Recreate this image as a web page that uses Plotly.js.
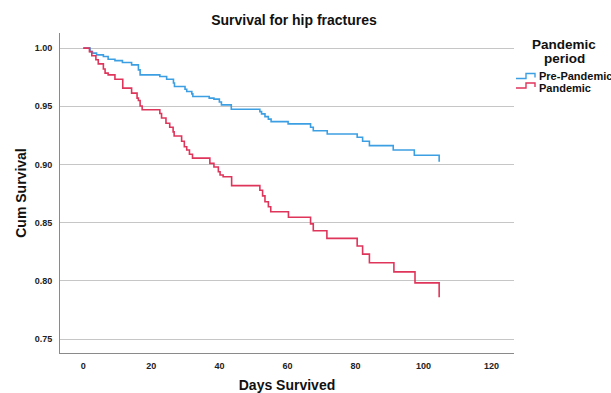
<!DOCTYPE html>
<html>
<head>
<meta charset="utf-8">
<script src="https://cdn.plot.ly/plotly-3.0.1.min.js"></script>
<style>html,body{margin:0;padding:0;background:#fff;}#chart{width:611px;height:393px;}</style>
</head>
<body>
<div id="chart"></div>
<script>
const chartTitle = "Survival for hip fractures";
const xTitle = "Days Survived";
const yTitle = "Cum Survival";
const legendTitleLines = ["Pandemic", "period"];
const seriesNames = ["Pre-Pandemic", "Pandemic"];

const xTickVals = [0, 20, 40, 60, 80, 100, 120];
const yTickVals = [0.75, 0.80, 0.85, 0.90, 0.95, 1.00];
const yTickText = ["0.75", "0.80", "0.85", "0.90", "0.95", "1.00"];

const preDays = [0, 2.0, 2.7, 3.9, 5.9, 7.3, 9.3, 11.5, 14.2, 16.2, 16.7, 22.5, 24.5, 26.5, 26.8, 29.9, 30.4, 31.9, 32.2, 37.0, 38.4, 40.0, 40.6, 43.5, 51.9, 52.4, 53.4, 54.4, 55.2, 60.2, 66.8, 67.6, 71.7, 80.5, 82.1, 84.1, 91.1, 97.3, 104.6];
const preSurv = [1.0, 0.997, 0.9957, 0.9942, 0.9928, 0.9905, 0.9893, 0.9876, 0.9856, 0.9813, 0.977, 0.9756, 0.9733, 0.970, 0.967, 0.9647, 0.9627, 0.9607, 0.9584, 0.957, 0.9562, 0.9537, 0.9512, 0.9475, 0.9454, 0.9435, 0.9411, 0.939, 0.9368, 0.9349, 0.932, 0.929, 0.9262, 0.9234, 0.920, 0.9162, 0.9125, 0.9079, 0.9024];

const panDays = [0, 1.8, 2.5, 3.7, 4.4, 5.9, 6.4, 7.3, 9.3, 11.6, 14.2, 15.8, 16.2, 16.7, 17.3, 22.5, 23.0, 24.3, 25.4, 26.4, 26.7, 28.9, 29.7, 30.4, 31.2, 32.1, 37.2, 38.4, 39.7, 40.2, 41.1, 43.6, 51.9, 52.7, 53.4, 54.4, 55.1, 60.3, 66.8, 67.6, 71.6, 80.5, 82.1, 84.1, 91.3, 97.5, 104.6];
const panSurv = [1.0, 0.997, 0.9934, 0.990, 0.9865, 0.982, 0.9785, 0.977, 0.9733, 0.9656, 0.9613, 0.957, 0.955, 0.9503, 0.947, 0.9438, 0.940, 0.9355, 0.932, 0.928, 0.9245, 0.920, 0.9153, 0.9125, 0.9088, 0.9055, 0.901, 0.8978, 0.8938, 0.891, 0.8895, 0.8818, 0.8778, 0.873, 0.868, 0.8637, 0.8594, 0.8546, 0.849, 0.843, 0.8365, 0.830, 0.823, 0.8155, 0.8077, 0.7983, 0.786];

const blue = "#3d9fe3";
const red = "#e0355b";
const FONT = "Liberation Sans, Arial, sans-serif";

// plot area in pixels (for paper coordinate conversion of the legend)
const W = 611, H = 393, L = 60, R = 97, T = 33, B = 40;
const pw = W - L - R, ph = H - T - B;
const px = v => (v - L) / pw;
const py = v => (H - B - v) / ph;

const traces = [
  {x: preDays, y: preSurv, type: "scatter", mode: "lines", name: seriesNames[0],
   line: {shape: "hv", color: blue, width: 1.6}, showlegend: false, hoverinfo: "x+y"},
  {x: panDays, y: panSurv, type: "scatter", mode: "lines", name: seriesNames[1],
   line: {shape: "hv", color: red, width: 1.6}, showlegend: false, hoverinfo: "x+y"}
];

function stepPath(y0) {
  return "M" + px(516) + "," + py(y0) + " H" + px(526) + " V" + py(y0 - 5) + " H" + px(535) + " V" + py(y0 - 1);
}

const layout = {
  width: W, height: H,
  margin: {l: L, r: R, t: T, b: B, pad: 0},
  paper_bgcolor: "#ffffff", plot_bgcolor: "#ffffff",
  font: {family: FONT, color: "#222"},
  title: {text: "<b>" + chartTitle + "</b>", font: {size: 14, family: FONT, color: "#111"},
          x: 294 / W, xanchor: "center", y: 1 - 20 / H, yanchor: "middle"},
  xaxis: {
    range: [-6.85, 126.6], tickvals: xTickVals, ticktext: xTickVals.map(String),
    showgrid: false, zeroline: false, showline: true, linecolor: "#8a8a8a", linewidth: 1,
    ticks: "", tickfont: {size: 9, family: FONT, color: "#222", weight: "bold"},
    ticklabelstandoff: 4,
    title: {text: "<b>" + xTitle + "</b>", font: {size: 14, family: FONT, color: "#111"}, standoff: 15}
  },
  yaxis: {
    range: [0.738, 1.013], tickvals: yTickVals, ticktext: yTickText,
    showgrid: true, gridcolor: "#c6c6c6", gridwidth: 1, zeroline: false,
    showline: true, linecolor: "#8a8a8a", linewidth: 1,
    ticks: "", tickfont: {size: 9, family: FONT, color: "#222", weight: "bold"},
    ticklabelstandoff: 5,
    title: {text: "<b>" + yTitle + "</b>", font: {size: 14, family: FONT, color: "#111"}, standoff: 4}
  },
  showlegend: false,
  annotations: [
    {xref: "paper", yref: "paper", x: px(564), y: py(45), xanchor: "center", yanchor: "middle",
     text: "<b>" + legendTitleLines[0] + "</b>", showarrow: false, font: {size: 13.5, family: FONT, color: "#111"}},
    {xref: "paper", yref: "paper", x: px(564), y: py(58), xanchor: "center", yanchor: "middle",
     text: "<b>" + legendTitleLines[1] + "</b>", showarrow: false, font: {size: 13.5, family: FONT, color: "#111"}},
    {xref: "paper", yref: "paper", x: px(537), y: py(75.5), xanchor: "left", yanchor: "middle",
     text: "<b>" + seriesNames[0] + "</b>", showarrow: false, font: {size: 11, family: FONT, color: "#111"}},
    {xref: "paper", yref: "paper", x: px(537), y: py(87.5), xanchor: "left", yanchor: "middle",
     text: "<b>" + seriesNames[1] + "</b>", showarrow: false, font: {size: 11, family: FONT, color: "#111"}}
  ],
  shapes: [
    {type: "path", xref: "paper", yref: "paper", path: stepPath(78.5), line: {color: blue, width: 1.4}},
    {type: "path", xref: "paper", yref: "paper", path: stepPath(88), line: {color: red, width: 1.4}}
  ]
};

Plotly.newPlot("chart", traces, layout, {displayModeBar: false, staticPlot: true});
</script>
</body>
</html>
